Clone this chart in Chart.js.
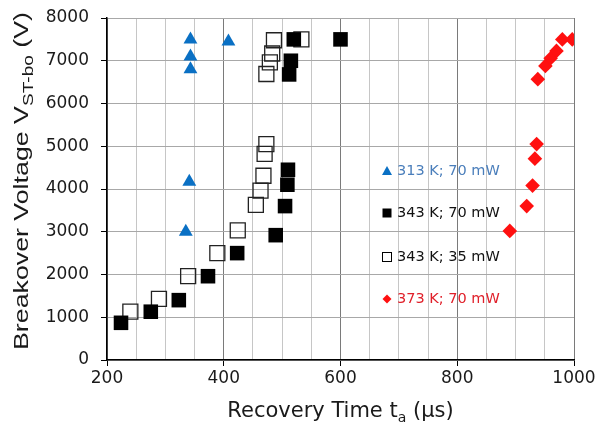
<!DOCTYPE html>
<html><head><meta charset="utf-8">
<script src="https://cdn.jsdelivr.net/npm/chart.js@4/dist/chart.umd.min.js"></script>
<style>html,body{margin:0;padding:0;background:#fff;}</style>
</head><body>
<canvas id="c" width="595" height="426"></canvas>
<script>
// ---- data ----
const seriesLabels = ['313 K; 70 mW', '343 K; 70 mW', '343 K; 35 mW', '373 K; 70 mW'];

const t313_70_x = [343, 343, 343, 408, 341, 335];
const t313_70_y = [7500, 7100, 6800, 7450, 4170, 3000];

const t343_70_x = [224, 275, 323, 373, 423, 489, 505, 509, 510, 512, 515, 520, 600];
const t343_70_y = [870, 1130, 1400, 1960, 2500, 2920, 3600, 4100, 4450, 6680, 7000, 7500, 7500];

const t343_35_x = [240, 289, 339, 389, 424, 455, 463, 468, 470, 473, 473, 479, 483, 486, 533];
const t343_35_y = [1130, 1430, 1960, 2500, 3030, 3630, 3960, 4310, 4820, 5050, 6690, 6960, 7170, 7480, 7500];

const t373_70_x = [890, 919, 929, 933, 936, 938, 951, 960, 970, 980, 997];
const t373_70_y = [3020, 3600, 4080, 4710, 5050, 6570, 6880, 7060, 7230, 7500, 7500];

const xTicksMajor = [200, 400, 600, 800, 1000];
const yTicks = [0, 1000, 2000, 3000, 4000, 5000, 6000, 7000, 8000];

const xTitleMain = 'Recovery Time t', xTitleSub = 'a', xTitleEnd = ' (µs)';
const yTitleMain = 'Breakover Voltage V', yTitleSub = 'ST-bo', yTitleEnd = ' (V)';

const pts = (xs, ys) => xs.map((x, i) => ({x: x, y: ys[i]}));

const BLUE = '#0a70c4', RED = '#ff1010';

// ---- custom drawing of titles with subscripts and the in-plot legend ----
const annot = {
  id: 'annot',
  afterDraw(chart) {
    const ctx = chart.ctx, a = chart.chartArea;
    function runWidth(parts) {
      let w = 0;
      parts.forEach(p => { ctx.font = p.f; w += ctx.measureText(p.t).width; });
      return w;
    }
    function drawRun(parts, x, y) {
      parts.forEach(p => { ctx.font = p.f; ctx.fillText(p.t, x, y + (p.dy || 0)); x += ctx.measureText(p.t).width; });
    }
    ctx.save();
    ctx.fillStyle = '#1a1a1a';
    ctx.textBaseline = 'alphabetic';
    ctx.textAlign = 'left';
    // x title
    const xf = '21px "DejaVu Sans"', xs = '14px "DejaVu Sans"';
    const xparts = [{t: xTitleMain, f: xf}, {t: xTitleSub, f: xs, dy: 5}, {t: xTitleEnd, f: xf}];
    const xw = runWidth(xparts);
    drawRun(xparts, (a.left + a.right) / 2 - xw / 2, 417);
    // y title (stretched along its length to span like the reference)
    const yf = '21px "Liberation Sans"', ys = '15px "Liberation Sans"';
    const yparts = [{t: yTitleMain, f: yf}, {t: yTitleSub, f: ys, dy: 5}, {t: yTitleEnd, f: yf}];
    const yw = runWidth(yparts);
    const target = 338;
    ctx.translate(28, 181);
    ctx.rotate(-Math.PI / 2);
    ctx.scale(target / yw, 1);
    drawRun(yparts, -yw / 2, 0);
    ctx.restore();

    // legend inside plot
    ctx.save();
    const mx = a.left + 280, tx = a.left + 290;
    const rows = [a.top + 153, a.top + 195, a.top + 239, a.top + 281];
    const colors = ['#4a7ebb', '#111', '#111', '#e0202a'];
    ctx.font = '14.5px "DejaVu Sans"';
    ctx.textBaseline = 'middle';
    rows.forEach((y, i) => {
      ctx.beginPath();
      if (i === 0) {
        ctx.fillStyle = BLUE;
        ctx.moveTo(mx, y - 5); ctx.lineTo(mx + 5, y + 4); ctx.lineTo(mx - 5, y + 4); ctx.closePath(); ctx.fill();
      } else if (i === 1) {
        ctx.fillStyle = '#000'; ctx.fillRect(mx - 4.5, y - 4.5, 9, 9);
      } else if (i === 2) {
        ctx.strokeStyle = '#000'; ctx.lineWidth = 1; ctx.strokeRect(mx - 4.5, y - 4.5, 9, 9);
      } else {
        ctx.fillStyle = RED;
        ctx.moveTo(mx, y - 4.5); ctx.lineTo(mx + 4.5, y); ctx.lineTo(mx, y + 4.5); ctx.lineTo(mx - 4.5, y); ctx.closePath(); ctx.fill();
      }
      ctx.fillStyle = colors[i];
      ctx.fillText(seriesLabels[i], tx, y);
    });
    ctx.restore();
  }
};

new Chart(document.getElementById('c'), {
  type: 'scatter',
  data: {
    datasets: [
      {label: seriesLabels[0], data: pts(t313_70_x, t313_70_y), pointStyle: 'triangle', pointRadius: 8, pointHoverRadius: 8, backgroundColor: BLUE, borderWidth: 0},
      {label: seriesLabels[1], data: pts(t343_70_x, t343_70_y), pointStyle: 'rect', pointRadius: 10.3, pointHoverRadius: 10.3, backgroundColor: '#000', borderWidth: 0},
      {label: seriesLabels[2], data: pts(t343_35_x, t343_35_y), pointStyle: 'rect', pointRadius: 10.6, pointHoverRadius: 10.6, backgroundColor: 'rgba(255,255,255,0)', borderColor: '#222', borderWidth: 1.3},
      {label: seriesLabels[3], data: pts(t373_70_x, t373_70_y), pointStyle: 'rectRot', pointRadius: 7.3, pointHoverRadius: 7.3, backgroundColor: RED, borderWidth: 0}
    ]
  },
  options: {
    responsive: false,
    animation: false,
    events: [],
    layout: {padding: {top: 18, right: 21, left: 0, bottom: 0}},
    plugins: {legend: {display: false}, tooltip: {enabled: false}},
    scales: {
      x: {
        type: 'linear', min: 200, max: 1000,
        afterBuildTicks: s => { const t = []; for (let v = 200; v <= 1000; v += 50) t.push({value: v}); s.ticks = t; },
        ticks: {autoSkip: false, maxRotation: 0, padding: 2, color: '#1a1a1a',
          font: {family: 'DejaVu Sans', size: 17},
          callback: v => xTicksMajor.includes(v) ? String(v) : ''},
        grid: {
          color: c => (c.tick && xTicksMajor.includes(c.tick.value)) ? '#7a7a7a' : '#c6c6c6',
          tickColor: c => (c.tick && xTicksMajor.includes(c.tick.value)) ? '#000' : 'rgba(0,0,0,0)',
          tickLength: 6, lineWidth: 1
        },
        border: {color: '#000', width: 1.5},
        afterFit: s => { s.height = 66; s.paddingLeft = 0; s.paddingRight = 0; }
      },
      y: {
        type: 'linear', min: 0, max: 8000,
        afterBuildTicks: s => { s.ticks = yTicks.map(v => ({value: v})); },
        ticks: {padding: 12, color: '#1a1a1a', font: {family: 'DejaVu Sans', size: 17},
          callback: v => String(v)},
        grid: {color: '#a8a8a8', tickColor: '#000', tickLength: 6, lineWidth: 1},
        border: {color: '#000', width: 1.5},
        afterFit: s => { s.width = 107; s.paddingTop = 0; s.paddingBottom = 0; }
      }
    }
  },
  plugins: [annot]
});
</script>
</body></html>
